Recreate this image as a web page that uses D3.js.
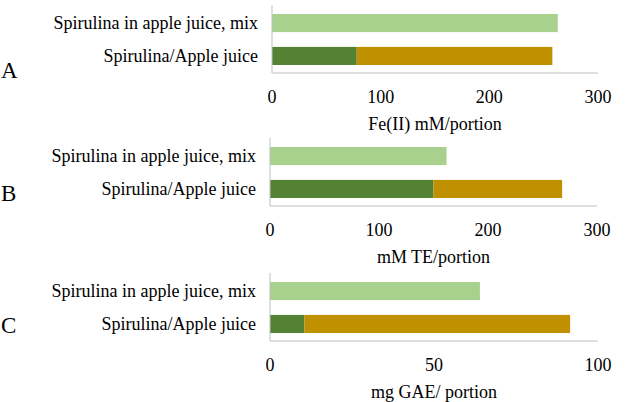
<!DOCTYPE html>
<html><head><meta charset="utf-8">
<script src="https://cdn.jsdelivr.net/npm/d3@7"></script>
<style>body{margin:0;background:#fff}</style>
</head><body>
<svg id="c" width="629" height="402"></svg>
<script>
const categories = ['Spirulina in apple juice, mix', 'Spirulina/Apple juice'];
const panelLetters = ['A', 'B', 'C'];
const axisTitles = ['Fe(II) mM/portion', 'mM TE/portion', 'mg GAE/ portion'];
const axisMax = [300, 300, 100];
const tickValues = [[0, 100, 200, 300], [0, 100, 200, 300], [0, 50, 100]];
const mixValues = [263, 162, 64];
const spirulinaValues = [78, 150, 10.5];
const appleJuiceValues = [258, 268, 91.5];

const colors = { mix: '#a9d18e', spirulina: '#548235', apple: '#bf9000' };
const serif = '"Liberation Serif", "DejaVu Serif", "Times New Roman", serif';
const panels = [
  { top: 5, x0: 272, x1: 598, letterY: 78 },
  { top: 138, x0: 270, x1: 597, letterY: 201 },
  { top: 273, x0: 270, x1: 598, letterY: 333 }
];

const svg = d3.select('#c').attr('font-family', serif);

panels.forEach((p, i) => {
  const g = svg.append('g');
  const x = d3.scaleLinear().domain([0, axisMax[i]]).range([p.x0, p.x1]);
  const y = d3.scaleBand().domain(categories).range([p.top + 9, p.top + 60]).paddingInner(0.45);

  // mix bar
  g.append('rect')
    .attr('x', x(0)).attr('y', y(categories[0]))
    .attr('width', x(mixValues[i]) - x(0)).attr('height', y.bandwidth())
    .attr('fill', colors.mix);

  // stacked bar
  g.append('rect')
    .attr('x', x(0)).attr('y', y(categories[1]))
    .attr('width', x(spirulinaValues[i]) - x(0)).attr('height', y.bandwidth())
    .attr('fill', colors.spirulina);
  g.append('rect')
    .attr('x', x(spirulinaValues[i])).attr('y', y(categories[1]))
    .attr('width', x(appleJuiceValues[i]) - x(spirulinaValues[i])).attr('height', y.bandwidth())
    .attr('fill', colors.apple);

  // axes
  const bottom = p.top + 68;
  g.append('line').attr('x1', p.x0).attr('x2', p.x0).attr('y1', p.top).attr('y2', bottom)
    .attr('stroke', '#bfbfbf');
  g.append('line').attr('x1', p.x0).attr('x2', p.x1).attr('y1', bottom).attr('y2', bottom)
    .attr('stroke', '#bfbfbf');

  g.selectAll('.tick').data(tickValues[i]).join('text')
    .attr('x', d => x(d)).attr('y', bottom + 30)
    .attr('text-anchor', 'middle').attr('font-size', 18)
    .text(d => d);

  g.append('text').attr('x', (p.x0 + p.x1) / 2).attr('y', bottom + 57)
    .attr('text-anchor', 'middle').attr('font-size', 18).text(axisTitles[i]);

  g.selectAll('.cat').data(categories).join('text')
    .attr('x', p.x0 - 14).attr('y', d => y(d) + y.bandwidth() / 2 + 6)
    .attr('text-anchor', 'end').attr('font-size', 18).text(d => d);

  g.append('text').attr('x', 1).attr('y', p.letterY).attr('font-size', 23).text(panelLetters[i]);
});
</script>
</body></html>
